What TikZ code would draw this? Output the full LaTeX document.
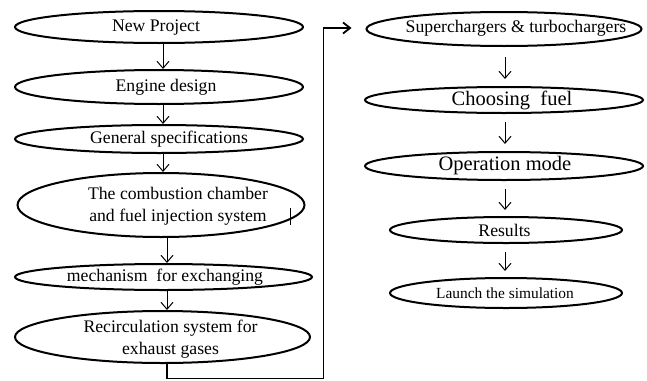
\documentclass[tikz,border=0pt]{standalone}
\usepackage{fontspec}
\setmainfont{Liberation Serif}
\usetikzlibrary{shapes.geometric,arrows.meta}
\begin{document}
\begin{tikzpicture}[x=1pt,y=-1pt,
  ell/.style={draw, ellipse, line width=2pt, inner sep=0pt},
  lab/.style={font=\fontsize{17.7}{22}\selectfont, inner sep=0pt, align=center},
  labbig/.style={font=\fontsize{20.5}{24}\selectfont, inner sep=0pt, align=center},
  labsmall/.style={font=\fontsize{15.4}{19}\selectfont, inner sep=0pt, align=center},
  arr/.style={line width=1pt, -{Straight Barb[length=7pt,width=12pt]}},
  feed/.style={line width=1.8pt, line join=miter}]
\useasboundingbox (0,0) rectangle (647,380);
% left column
\node[ell, minimum width=288pt, minimum height=32pt,
  label={[lab,xshift=-3pt,yshift=-1pt]center:New Project}] (L1) at (159,27) {};
\node[ell, minimum width=288pt, minimum height=34pt,
  label={[lab,xshift=7pt]center:Engine design}] (L2) at (159,87) {};
\node[ell, minimum width=288pt, minimum height=28pt,
  label={[lab,xshift=10pt]center:General specifications}] (L3) at (159,139) {};
\node[ell, minimum width=287pt, minimum height=64pt,
  label={[lab,xshift=17pt,yshift=-1.5pt]center:{The combustion chamber\\and fuel injection system}}] (L4) at (161,205) {};
\node[ell, minimum width=297pt, minimum height=26pt,
  label={[lab,xshift=1.5pt]center:mechanism\ \ for exchanging}] (L5) at (163.5,277) {};
\node[ell, minimum width=295pt, minimum height=52pt,
  label={[lab,xshift=8pt,yshift=-2pt]center:{Recirculation system for\\exhaust gases}}] (L6) at (162.5,337) {};
% right column
\node[ell, minimum width=275pt, minimum height=34pt,
  label={[lab,xshift=12pt,yshift=1pt]center:Superchargers \& turbochargers}] (R1) at (504,29) {};
\node[ell, minimum width=278pt, minimum height=26pt,
  label={[labbig,xshift=8pt]center:Choosing\ \ fuel}] (R2) at (504,100) {};
\node[ell, minimum width=278pt, minimum height=28pt,
  label={[labbig,xshift=1pt]center:Operation mode}] (R3) at (504,166) {};
\node[ell, minimum width=232pt, minimum height=26pt,
  label={[lab,xshift=-1.5pt]center:Results}] (R4) at (506,230) {};
\node[ell, minimum width=232pt, minimum height=30pt,
  label={[labsmall,xshift=-1pt]center:Launch the simulation}] (R5) at (506,293) {};
% left arrows
\draw[arr] ([xshift=4pt]L1.south) -- ([xshift=4pt]L2.north);
\draw[arr] ([xshift=4pt]L2.south) -- ([xshift=4pt]L3.north);
\draw[arr] ([xshift=4pt]L3.south) -- ([xshift=2pt]L4.north);
\draw[arr] ([xshift=6pt]L4.south) -- ([xshift=3.5pt]L5.north);
\draw[arr] ([xshift=3.5pt]L5.south) -- ([xshift=4.5pt]L6.north);
% right arrows
\draw[arr, shorten <=10pt, shorten >=7pt] ([xshift=1pt]R1.south) -- ([xshift=1pt]R2.north);
\draw[arr, shorten <=8pt, shorten >=7pt] ([xshift=1pt]R2.south) -- ([xshift=1pt]R3.north);
\draw[arr, shorten <=8pt, shorten >=6pt] ([xshift=1pt]R3.south) -- ([xshift=-1pt]R4.north);
\draw[arr, shorten <=8pt, shorten >=6pt] ([xshift=-1pt]R4.south) -- ([xshift=-1pt]R5.north);
% feedback connector
\coordinate (c1) at (167,378.5);
\coordinate (c2) at (323.5,378.5);
\coordinate (c3) at (323.5,28);
\draw[feed, -{Straight Barb[length=7pt,width=11pt]}, shorten >=14pt]
  ([xshift=4.5pt]L6.south) -- (c1) -- (c2) -- (c3) -- (c3 -| R1.west);
% small tick on the combustion ellipse
\coordinate (tk) at (290,208);
\draw[line width=1pt] (tk) -- ++(0,17);
\end{tikzpicture}
\end{document}
